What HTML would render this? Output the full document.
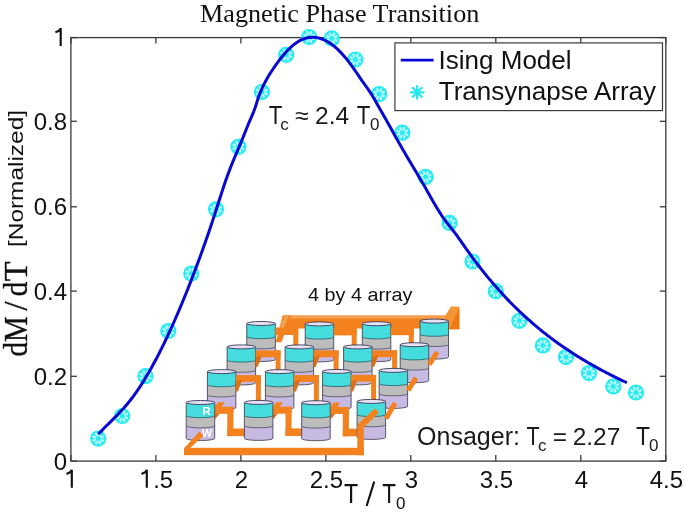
<!DOCTYPE html><html><head><meta charset="utf-8"><style>html,body{margin:0;padding:0;background:#fff;}svg{display:block;will-change:transform}</style></head><body>
<svg width="685" height="514" viewBox="0 0 685 514">
<rect width="685" height="514" fill="#fff"/>
<text x="200" y="21.9" font-family="'Liberation Serif', serif" font-size="26.2" fill="#111">Magnetic Phase Transition</text>
<rect x="70.9" y="37.6" width="594.9" height="423.5" fill="none" stroke="#3a3a3a" stroke-width="1.3"/>
<line x1="70.9" y1="461.1" x2="70.9" y2="455.1" stroke="#3a3a3a" stroke-width="1.3"/>
<line x1="70.9" y1="37.6" x2="70.9" y2="43.6" stroke="#3a3a3a" stroke-width="1.3"/>
<path d="M71.8,487.7 V469.7 M66.5,474.0 L70.1,472.3 L71.8,469.9" stroke="#111" stroke-width="2.15" fill="none" stroke-linejoin="round"/>
<line x1="155.9" y1="461.1" x2="155.9" y2="455.1" stroke="#3a3a3a" stroke-width="1.3"/>
<line x1="155.9" y1="37.6" x2="155.9" y2="43.6" stroke="#3a3a3a" stroke-width="1.3"/>
<path d="M146.8,487.7 V469.7 M141.5,474.0 L145.1,472.3 L146.8,469.9" stroke="#111" stroke-width="2.15" fill="none" stroke-linejoin="round"/>
<text x="153.15" y="487.7" font-family="'Liberation Sans', sans-serif" font-size="24" fill="#111">.5</text>
<line x1="240.9" y1="461.1" x2="240.9" y2="455.1" stroke="#3a3a3a" stroke-width="1.3"/>
<line x1="240.9" y1="37.6" x2="240.9" y2="43.6" stroke="#3a3a3a" stroke-width="1.3"/>
<text x="234.80" y="487.7" font-family="'Liberation Sans', sans-serif" font-size="24" fill="#111">2</text>
<line x1="325.9" y1="461.1" x2="325.9" y2="455.1" stroke="#3a3a3a" stroke-width="1.3"/>
<line x1="325.9" y1="37.6" x2="325.9" y2="43.6" stroke="#3a3a3a" stroke-width="1.3"/>
<text x="309.78" y="487.7" font-family="'Liberation Sans', sans-serif" font-size="24" fill="#111">2.5</text>
<line x1="410.8" y1="461.1" x2="410.8" y2="455.1" stroke="#3a3a3a" stroke-width="1.3"/>
<line x1="410.8" y1="37.6" x2="410.8" y2="43.6" stroke="#3a3a3a" stroke-width="1.3"/>
<text x="404.77" y="487.7" font-family="'Liberation Sans', sans-serif" font-size="24" fill="#111">3</text>
<line x1="495.8" y1="461.1" x2="495.8" y2="455.1" stroke="#3a3a3a" stroke-width="1.3"/>
<line x1="495.8" y1="37.6" x2="495.8" y2="43.6" stroke="#3a3a3a" stroke-width="1.3"/>
<text x="479.75" y="487.7" font-family="'Liberation Sans', sans-serif" font-size="24" fill="#111">3.5</text>
<line x1="580.8" y1="461.1" x2="580.8" y2="455.1" stroke="#3a3a3a" stroke-width="1.3"/>
<line x1="580.8" y1="37.6" x2="580.8" y2="43.6" stroke="#3a3a3a" stroke-width="1.3"/>
<text x="574.74" y="487.7" font-family="'Liberation Sans', sans-serif" font-size="24" fill="#111">4</text>
<line x1="665.8" y1="461.1" x2="665.8" y2="455.1" stroke="#3a3a3a" stroke-width="1.3"/>
<line x1="665.8" y1="37.6" x2="665.8" y2="43.6" stroke="#3a3a3a" stroke-width="1.3"/>
<text x="649.73" y="487.7" font-family="'Liberation Sans', sans-serif" font-size="24" fill="#111">4.5</text>
<line x1="70.9" y1="461.1" x2="76.9" y2="461.1" stroke="#3a3a3a" stroke-width="1.3"/>
<line x1="665.8" y1="461.1" x2="659.8" y2="461.1" stroke="#3a3a3a" stroke-width="1.3"/>
<text x="53.66" y="469.6" font-family="'Liberation Sans', sans-serif" font-size="24" fill="#111">0</text>
<line x1="70.9" y1="376.3" x2="76.9" y2="376.3" stroke="#3a3a3a" stroke-width="1.3"/>
<line x1="665.8" y1="376.3" x2="659.8" y2="376.3" stroke="#3a3a3a" stroke-width="1.3"/>
<text x="33.65" y="384.8" font-family="'Liberation Sans', sans-serif" font-size="24" fill="#111">0.2</text>
<line x1="70.9" y1="291.1" x2="76.9" y2="291.1" stroke="#3a3a3a" stroke-width="1.3"/>
<line x1="665.8" y1="291.1" x2="659.8" y2="291.1" stroke="#3a3a3a" stroke-width="1.3"/>
<text x="33.65" y="299.6" font-family="'Liberation Sans', sans-serif" font-size="24" fill="#111">0.4</text>
<line x1="70.9" y1="206.8" x2="76.9" y2="206.8" stroke="#3a3a3a" stroke-width="1.3"/>
<line x1="665.8" y1="206.8" x2="659.8" y2="206.8" stroke="#3a3a3a" stroke-width="1.3"/>
<text x="33.65" y="215.3" font-family="'Liberation Sans', sans-serif" font-size="24" fill="#111">0.6</text>
<line x1="70.9" y1="121.3" x2="76.9" y2="121.3" stroke="#3a3a3a" stroke-width="1.3"/>
<line x1="665.8" y1="121.3" x2="659.8" y2="121.3" stroke="#3a3a3a" stroke-width="1.3"/>
<text x="33.65" y="129.8" font-family="'Liberation Sans', sans-serif" font-size="24" fill="#111">0.8</text>
<line x1="70.9" y1="37.6" x2="76.9" y2="37.6" stroke="#3a3a3a" stroke-width="1.3"/>
<line x1="665.8" y1="37.6" x2="659.8" y2="37.6" stroke="#3a3a3a" stroke-width="1.3"/>
<path d="M60.7,46.1 V28.1 M55.4,32.4 L59.0,30.7 L60.7,28.3" stroke="#111" stroke-width="2.15" fill="none" stroke-linejoin="round"/>
<g transform="translate(27.4,0) rotate(-90)" font-family="'Liberation Serif', serif" font-size="33" fill="#111" stroke="#111" stroke-width="0.35">
<text x="-356.58" y="0" textLength="14.52" lengthAdjust="spacingAndGlyphs">d</text>
<text x="-341.88" y="0" textLength="25.64" lengthAdjust="spacingAndGlyphs">M</text>
<text x="-310.60" y="0" textLength="9.00" lengthAdjust="spacingAndGlyphs">/</text>
<text x="-296.19" y="0" textLength="14.63" lengthAdjust="spacingAndGlyphs">d</text>
<text x="-281.28" y="0" textLength="19.88" lengthAdjust="spacingAndGlyphs">T</text>
</g>
<g transform="translate(23.3,247) rotate(-90)"><text x="0" y="0" font-family="'Liberation Sans', sans-serif" font-size="20.5" fill="#111" textLength="137" lengthAdjust="spacingAndGlyphs">[Normalized]</text></g>
<text x="343.9" y="502.5" font-family="'Liberation Sans', sans-serif" font-size="27" fill="#111" textLength="14.2" lengthAdjust="spacingAndGlyphs">T</text>
<line x1="366.6" y1="506" x2="374.2" y2="481.6" stroke="#111" stroke-width="2.1"/>
<text x="382.3" y="502.5" font-family="'Liberation Sans', sans-serif" font-size="27" fill="#111" textLength="13.7" lengthAdjust="spacingAndGlyphs">T</text>
<text x="396.0" y="508.9" font-family="'Liberation Sans', sans-serif" font-size="17" fill="#111">0</text>
<polygon points="282.7,315.6 449.0,315.6 449.0,328.6 282.0,328.6" fill="#f3821e"/><rect x="286.0" y="315.6" width="160.0" height="3.0" fill="#f6a050"/><polygon points="445.2,315.8 451.0,306.6 459.4,306.6 459.4,329.3 449.5,329.3 446.0,329.3" fill="#f59636"/><polygon points="459.4,307.5 459.4,329.3 449.5,329.3" fill="#ee7a16"/><polygon points="282.7,315.6 291.0,315.6 281.5,342.3 275.6,342.3" fill="#f3821e"/><polygon points="284.5,315.6 289.0,315.6 283.5,328.6 279.5,328.6" fill="#f6a050"/><path d="M246.8,323.5 L246.8,359.5 A14.25,2.0 0 0 0 275.3,359.5 L275.3,323.5 Z" fill="#c6b9e2"/><path d="M246.8,323.5 L246.8,346.9 A14.25,2.0 0 0 0 275.3,346.9 L275.3,323.5 Z" fill="#bcbcbc"/><path d="M246.8,323.5 L246.8,336.7 A14.25,2.0 0 0 0 275.3,336.7 L275.3,323.5 Z" fill="#44dcdc"/><path d="M246.8,336.7 A14.25,2.0 0 0 0 275.3,336.7" fill="none" stroke="#2a6a70" stroke-width="0.9"/><path d="M246.8,346.9 A14.25,2.0 0 0 0 275.3,346.9" fill="none" stroke="#5a5a6a" stroke-width="0.9"/><path d="M246.8,323.5 L246.8,359.5 A14.25,2.0 0 0 0 275.3,359.5 L275.3,323.5" fill="none" stroke="#4a4a5a" stroke-width="0.9"/><ellipse cx="261.05" cy="323.5" rx="14.25" ry="2.0" fill="#e6e1f3" stroke="#3a3a5a" stroke-width="0.9"/><path d="M305.2,323.9 L305.2,359.9 A14.25,2.0 0 0 0 333.7,359.9 L333.7,323.9 Z" fill="#c6b9e2"/><path d="M305.2,323.9 L305.2,347.3 A14.25,2.0 0 0 0 333.7,347.3 L333.7,323.9 Z" fill="#bcbcbc"/><path d="M305.2,323.9 L305.2,337.1 A14.25,2.0 0 0 0 333.7,337.1 L333.7,323.9 Z" fill="#44dcdc"/><path d="M305.2,337.1 A14.25,2.0 0 0 0 333.7,337.1" fill="none" stroke="#2a6a70" stroke-width="0.9"/><path d="M305.2,347.3 A14.25,2.0 0 0 0 333.7,347.3" fill="none" stroke="#5a5a6a" stroke-width="0.9"/><path d="M305.2,323.9 L305.2,359.9 A14.25,2.0 0 0 0 333.7,359.9 L333.7,323.9" fill="none" stroke="#4a4a5a" stroke-width="0.9"/><ellipse cx="319.45" cy="323.9" rx="14.25" ry="2.0" fill="#e6e1f3" stroke="#3a3a5a" stroke-width="0.9"/><path d="M362.3,323.7 L362.3,359.7 A14.25,2.0 0 0 0 390.8,359.7 L390.8,323.7 Z" fill="#c6b9e2"/><path d="M362.3,323.7 L362.3,347.1 A14.25,2.0 0 0 0 390.8,347.1 L390.8,323.7 Z" fill="#bcbcbc"/><path d="M362.3,323.7 L362.3,336.9 A14.25,2.0 0 0 0 390.8,336.9 L390.8,323.7 Z" fill="#44dcdc"/><path d="M362.3,336.9 A14.25,2.0 0 0 0 390.8,336.9" fill="none" stroke="#2a6a70" stroke-width="0.9"/><path d="M362.3,347.1 A14.25,2.0 0 0 0 390.8,347.1" fill="none" stroke="#5a5a6a" stroke-width="0.9"/><path d="M362.3,323.7 L362.3,359.7 A14.25,2.0 0 0 0 390.8,359.7 L390.8,323.7" fill="none" stroke="#4a4a5a" stroke-width="0.9"/><ellipse cx="376.55" cy="323.7" rx="14.25" ry="2.0" fill="#e6e1f3" stroke="#3a3a5a" stroke-width="0.9"/><path d="M420.0,321.1 L420.0,357.1 A14.25,2.0 0 0 0 448.5,357.1 L448.5,321.1 Z" fill="#c6b9e2"/><path d="M420.0,321.1 L420.0,344.5 A14.25,2.0 0 0 0 448.5,344.5 L448.5,321.1 Z" fill="#bcbcbc"/><path d="M420.0,321.1 L420.0,334.3 A14.25,2.0 0 0 0 448.5,334.3 L448.5,321.1 Z" fill="#44dcdc"/><path d="M420.0,334.3 A14.25,2.0 0 0 0 448.5,334.3" fill="none" stroke="#2a6a70" stroke-width="0.9"/><path d="M420.0,344.5 A14.25,2.0 0 0 0 448.5,344.5" fill="none" stroke="#5a5a6a" stroke-width="0.9"/><path d="M420.0,321.1 L420.0,357.1 A14.25,2.0 0 0 0 448.5,357.1 L448.5,321.1" fill="none" stroke="#4a4a5a" stroke-width="0.9"/><ellipse cx="434.25" cy="321.1" rx="14.25" ry="2.0" fill="#e6e1f3" stroke="#3a3a5a" stroke-width="0.9"/><rect x="275.3" y="327.5" width="23.0" height="7.5" fill="#f3821e"/><rect x="293.3" y="327.5" width="5.0" height="21.4" fill="#f3821e"/><rect x="333.7" y="327.9" width="23.0" height="7.5" fill="#f3821e"/><rect x="351.7" y="327.9" width="5.0" height="21.0" fill="#f3821e"/><rect x="390.8" y="327.7" width="23.0" height="7.5" fill="#f3821e"/><rect x="408.8" y="327.7" width="5.0" height="19.0" fill="#f3821e"/><path d="M227.1,346.9 L227.1,382.9 A14.25,2.0 0 0 0 255.6,382.9 L255.6,346.9 Z" fill="#c6b9e2"/><path d="M227.1,346.9 L227.1,370.3 A14.25,2.0 0 0 0 255.6,370.3 L255.6,346.9 Z" fill="#bcbcbc"/><path d="M227.1,346.9 L227.1,360.1 A14.25,2.0 0 0 0 255.6,360.1 L255.6,346.9 Z" fill="#44dcdc"/><path d="M227.1,360.1 A14.25,2.0 0 0 0 255.6,360.1" fill="none" stroke="#2a6a70" stroke-width="0.9"/><path d="M227.1,370.3 A14.25,2.0 0 0 0 255.6,370.3" fill="none" stroke="#5a5a6a" stroke-width="0.9"/><path d="M227.1,346.9 L227.1,382.9 A14.25,2.0 0 0 0 255.6,382.9 L255.6,346.9" fill="none" stroke="#4a4a5a" stroke-width="0.9"/><ellipse cx="241.35" cy="346.9" rx="14.25" ry="2.0" fill="#e6e1f3" stroke="#3a3a5a" stroke-width="0.9"/><path d="M285.1,346.9 L285.1,382.9 A14.25,2.0 0 0 0 313.6,382.9 L313.6,346.9 Z" fill="#c6b9e2"/><path d="M285.1,346.9 L285.1,370.3 A14.25,2.0 0 0 0 313.6,370.3 L313.6,346.9 Z" fill="#bcbcbc"/><path d="M285.1,346.9 L285.1,360.1 A14.25,2.0 0 0 0 313.6,360.1 L313.6,346.9 Z" fill="#44dcdc"/><path d="M285.1,360.1 A14.25,2.0 0 0 0 313.6,360.1" fill="none" stroke="#2a6a70" stroke-width="0.9"/><path d="M285.1,370.3 A14.25,2.0 0 0 0 313.6,370.3" fill="none" stroke="#5a5a6a" stroke-width="0.9"/><path d="M285.1,346.9 L285.1,382.9 A14.25,2.0 0 0 0 313.6,382.9 L313.6,346.9" fill="none" stroke="#4a4a5a" stroke-width="0.9"/><ellipse cx="299.35" cy="346.9" rx="14.25" ry="2.0" fill="#e6e1f3" stroke="#3a3a5a" stroke-width="0.9"/><path d="M343.6,346.9 L343.6,382.9 A14.25,2.0 0 0 0 372.1,382.9 L372.1,346.9 Z" fill="#c6b9e2"/><path d="M343.6,346.9 L343.6,370.3 A14.25,2.0 0 0 0 372.1,370.3 L372.1,346.9 Z" fill="#bcbcbc"/><path d="M343.6,346.9 L343.6,360.1 A14.25,2.0 0 0 0 372.1,360.1 L372.1,346.9 Z" fill="#44dcdc"/><path d="M343.6,360.1 A14.25,2.0 0 0 0 372.1,360.1" fill="none" stroke="#2a6a70" stroke-width="0.9"/><path d="M343.6,370.3 A14.25,2.0 0 0 0 372.1,370.3" fill="none" stroke="#5a5a6a" stroke-width="0.9"/><path d="M343.6,346.9 L343.6,382.9 A14.25,2.0 0 0 0 372.1,382.9 L372.1,346.9" fill="none" stroke="#4a4a5a" stroke-width="0.9"/><ellipse cx="357.85" cy="346.9" rx="14.25" ry="2.0" fill="#e6e1f3" stroke="#3a3a5a" stroke-width="0.9"/><path d="M400.2,344.7 L400.2,380.7 A14.25,2.0 0 0 0 428.7,380.7 L428.7,344.7 Z" fill="#c6b9e2"/><path d="M400.2,344.7 L400.2,368.1 A14.25,2.0 0 0 0 428.7,368.1 L428.7,344.7 Z" fill="#bcbcbc"/><path d="M400.2,344.7 L400.2,357.9 A14.25,2.0 0 0 0 428.7,357.9 L428.7,344.7 Z" fill="#44dcdc"/><path d="M400.2,357.9 A14.25,2.0 0 0 0 428.7,357.9" fill="none" stroke="#2a6a70" stroke-width="0.9"/><path d="M400.2,368.1 A14.25,2.0 0 0 0 428.7,368.1" fill="none" stroke="#5a5a6a" stroke-width="0.9"/><path d="M400.2,344.7 L400.2,380.7 A14.25,2.0 0 0 0 428.7,380.7 L428.7,344.7" fill="none" stroke="#4a4a5a" stroke-width="0.9"/><ellipse cx="414.45" cy="344.7" rx="14.25" ry="2.0" fill="#e6e1f3" stroke="#3a3a5a" stroke-width="0.9"/><rect x="255.6" y="350.4" width="25.0" height="6.8" fill="#f3821e"/><rect x="275.6" y="350.4" width="5.0" height="23.2" fill="#f3821e"/><polygon points="255.6,356.9 262.1,354.9 257.6,366.9 255.6,366.9" fill="#e06e12"/><rect x="313.6" y="350.4" width="25.0" height="6.8" fill="#f3821e"/><rect x="333.6" y="350.4" width="5.0" height="23.0" fill="#f3821e"/><polygon points="313.6,356.9 320.1,354.9 315.6,366.9 313.6,366.9" fill="#e06e12"/><rect x="372.1" y="350.4" width="25.0" height="6.8" fill="#f3821e"/><rect x="392.1" y="350.4" width="5.0" height="22.0" fill="#f3821e"/><polygon points="372.1,356.9 378.6,354.9 374.1,366.9 372.1,366.9" fill="#e06e12"/><line x1="429.2" y1="364.7" x2="437.2" y2="352.2" stroke="#f3821e" stroke-width="5"/><path d="M207.4,371.6 L207.4,407.6 A14.25,2.0 0 0 0 235.9,407.6 L235.9,371.6 Z" fill="#c6b9e2"/><path d="M207.4,371.6 L207.4,395.0 A14.25,2.0 0 0 0 235.9,395.0 L235.9,371.6 Z" fill="#bcbcbc"/><path d="M207.4,371.6 L207.4,384.8 A14.25,2.0 0 0 0 235.9,384.8 L235.9,371.6 Z" fill="#44dcdc"/><path d="M207.4,384.8 A14.25,2.0 0 0 0 235.9,384.8" fill="none" stroke="#2a6a70" stroke-width="0.9"/><path d="M207.4,395.0 A14.25,2.0 0 0 0 235.9,395.0" fill="none" stroke="#5a5a6a" stroke-width="0.9"/><path d="M207.4,371.6 L207.4,407.6 A14.25,2.0 0 0 0 235.9,407.6 L235.9,371.6" fill="none" stroke="#4a4a5a" stroke-width="0.9"/><ellipse cx="221.65" cy="371.6" rx="14.25" ry="2.0" fill="#e6e1f3" stroke="#3a3a5a" stroke-width="0.9"/><path d="M265.4,371.6 L265.4,407.6 A14.25,2.0 0 0 0 293.9,407.6 L293.9,371.6 Z" fill="#c6b9e2"/><path d="M265.4,371.6 L265.4,395.0 A14.25,2.0 0 0 0 293.9,395.0 L293.9,371.6 Z" fill="#bcbcbc"/><path d="M265.4,371.6 L265.4,384.8 A14.25,2.0 0 0 0 293.9,384.8 L293.9,371.6 Z" fill="#44dcdc"/><path d="M265.4,384.8 A14.25,2.0 0 0 0 293.9,384.8" fill="none" stroke="#2a6a70" stroke-width="0.9"/><path d="M265.4,395.0 A14.25,2.0 0 0 0 293.9,395.0" fill="none" stroke="#5a5a6a" stroke-width="0.9"/><path d="M265.4,371.6 L265.4,407.6 A14.25,2.0 0 0 0 293.9,407.6 L293.9,371.6" fill="none" stroke="#4a4a5a" stroke-width="0.9"/><ellipse cx="279.65" cy="371.6" rx="14.25" ry="2.0" fill="#e6e1f3" stroke="#3a3a5a" stroke-width="0.9"/><path d="M322.6,371.4 L322.6,407.4 A14.25,2.0 0 0 0 351.1,407.4 L351.1,371.4 Z" fill="#c6b9e2"/><path d="M322.6,371.4 L322.6,394.8 A14.25,2.0 0 0 0 351.1,394.8 L351.1,371.4 Z" fill="#bcbcbc"/><path d="M322.6,371.4 L322.6,384.6 A14.25,2.0 0 0 0 351.1,384.6 L351.1,371.4 Z" fill="#44dcdc"/><path d="M322.6,384.6 A14.25,2.0 0 0 0 351.1,384.6" fill="none" stroke="#2a6a70" stroke-width="0.9"/><path d="M322.6,394.8 A14.25,2.0 0 0 0 351.1,394.8" fill="none" stroke="#5a5a6a" stroke-width="0.9"/><path d="M322.6,371.4 L322.6,407.4 A14.25,2.0 0 0 0 351.1,407.4 L351.1,371.4" fill="none" stroke="#4a4a5a" stroke-width="0.9"/><ellipse cx="336.85" cy="371.4" rx="14.25" ry="2.0" fill="#e6e1f3" stroke="#3a3a5a" stroke-width="0.9"/><path d="M379.1,370.4 L379.1,406.4 A14.25,2.0 0 0 0 407.6,406.4 L407.6,370.4 Z" fill="#c6b9e2"/><path d="M379.1,370.4 L379.1,393.8 A14.25,2.0 0 0 0 407.6,393.8 L407.6,370.4 Z" fill="#bcbcbc"/><path d="M379.1,370.4 L379.1,383.6 A14.25,2.0 0 0 0 407.6,383.6 L407.6,370.4 Z" fill="#44dcdc"/><path d="M379.1,383.6 A14.25,2.0 0 0 0 407.6,383.6" fill="none" stroke="#2a6a70" stroke-width="0.9"/><path d="M379.1,393.8 A14.25,2.0 0 0 0 407.6,393.8" fill="none" stroke="#5a5a6a" stroke-width="0.9"/><path d="M379.1,370.4 L379.1,406.4 A14.25,2.0 0 0 0 407.6,406.4 L407.6,370.4" fill="none" stroke="#4a4a5a" stroke-width="0.9"/><ellipse cx="393.35" cy="370.4" rx="14.25" ry="2.0" fill="#e6e1f3" stroke="#3a3a5a" stroke-width="0.9"/><rect x="235.9" y="375.1" width="25.0" height="6.8" fill="#f3821e"/><rect x="255.9" y="375.1" width="5.0" height="29.3" fill="#f3821e"/><polygon points="235.9,381.6 242.4,379.6 237.9,391.6 235.9,391.6" fill="#e06e12"/><rect x="293.9" y="375.1" width="25.0" height="6.8" fill="#f3821e"/><rect x="313.9" y="375.1" width="5.0" height="29.6" fill="#f3821e"/><polygon points="293.9,381.6 300.4,379.6 295.9,391.6 293.9,391.6" fill="#e06e12"/><rect x="351.1" y="374.9" width="25.0" height="6.8" fill="#f3821e"/><rect x="371.1" y="374.9" width="5.0" height="28.5" fill="#f3821e"/><polygon points="351.1,381.4 357.6,379.4 353.1,391.4 351.1,391.4" fill="#e06e12"/><line x1="408.1" y1="390.4" x2="416.1" y2="377.9" stroke="#f3821e" stroke-width="5"/><rect x="213.7" y="406.8" width="19.7" height="7.0" fill="#f3821e"/><polygon points="214.2,407.0 218.2,402.3 224.7,402.3 221.7,407.0" fill="#f3821e"/><rect x="227.3" y="406.8" width="6.1" height="29.3" fill="#f3821e"/><rect x="227.3" y="428.5" width="19.1" height="7.6" fill="#f3821e"/><polygon points="214.7,413.5 219.7,413.5 215.7,418.5 214.7,418.5" fill="#e06e12"/><rect x="271.9" y="406.7" width="19.7" height="7.0" fill="#f3821e"/><polygon points="272.4,406.9 276.4,402.2 282.9,402.2 279.9,406.9" fill="#f3821e"/><rect x="285.5" y="406.7" width="6.1" height="29.3" fill="#f3821e"/><rect x="285.5" y="428.4" width="18.2" height="7.6" fill="#f3821e"/><polygon points="272.9,413.4 277.9,413.4 273.9,418.4 272.9,418.4" fill="#e06e12"/><rect x="329.2" y="407.0" width="19.7" height="7.0" fill="#f3821e"/><polygon points="329.7,407.2 333.7,402.5 340.2,402.5 337.2,407.2" fill="#f3821e"/><rect x="342.8" y="407.0" width="6.1" height="29.3" fill="#f3821e"/><rect x="342.8" y="428.7" width="16.3" height="7.6" fill="#f3821e"/><polygon points="330.2,413.7 335.2,413.7 331.2,418.7 330.2,418.7" fill="#e06e12"/><rect x="184.0" y="447.8" width="180.0" height="7.4" fill="#f3821e"/><path d="M186.2,402.5 L186.2,438.5 A14.25,2.0 0 0 0 214.7,438.5 L214.7,402.5 Z" fill="#c6b9e2"/><path d="M186.2,402.5 L186.2,425.9 A14.25,2.0 0 0 0 214.7,425.9 L214.7,402.5 Z" fill="#bcbcbc"/><path d="M186.2,402.5 L186.2,415.7 A14.25,2.0 0 0 0 214.7,415.7 L214.7,402.5 Z" fill="#44dcdc"/><path d="M186.2,415.7 A14.25,2.0 0 0 0 214.7,415.7" fill="none" stroke="#2a6a70" stroke-width="0.9"/><path d="M186.2,425.9 A14.25,2.0 0 0 0 214.7,425.9" fill="none" stroke="#5a5a6a" stroke-width="0.9"/><path d="M186.2,402.5 L186.2,438.5 A14.25,2.0 0 0 0 214.7,438.5 L214.7,402.5" fill="none" stroke="#4a4a5a" stroke-width="0.9"/><ellipse cx="200.45" cy="402.5" rx="14.25" ry="2.0" fill="#e6e1f3" stroke="#3a3a5a" stroke-width="0.9"/><path d="M244.4,402.4 L244.4,438.4 A14.25,2.0 0 0 0 272.9,438.4 L272.9,402.4 Z" fill="#c6b9e2"/><path d="M244.4,402.4 L244.4,425.8 A14.25,2.0 0 0 0 272.9,425.8 L272.9,402.4 Z" fill="#bcbcbc"/><path d="M244.4,402.4 L244.4,415.6 A14.25,2.0 0 0 0 272.9,415.6 L272.9,402.4 Z" fill="#44dcdc"/><path d="M244.4,415.6 A14.25,2.0 0 0 0 272.9,415.6" fill="none" stroke="#2a6a70" stroke-width="0.9"/><path d="M244.4,425.8 A14.25,2.0 0 0 0 272.9,425.8" fill="none" stroke="#5a5a6a" stroke-width="0.9"/><path d="M244.4,402.4 L244.4,438.4 A14.25,2.0 0 0 0 272.9,438.4 L272.9,402.4" fill="none" stroke="#4a4a5a" stroke-width="0.9"/><ellipse cx="258.65" cy="402.4" rx="14.25" ry="2.0" fill="#e6e1f3" stroke="#3a3a5a" stroke-width="0.9"/><path d="M301.7,402.7 L301.7,438.7 A14.25,2.0 0 0 0 330.2,438.7 L330.2,402.7 Z" fill="#c6b9e2"/><path d="M301.7,402.7 L301.7,426.1 A14.25,2.0 0 0 0 330.2,426.1 L330.2,402.7 Z" fill="#bcbcbc"/><path d="M301.7,402.7 L301.7,415.9 A14.25,2.0 0 0 0 330.2,415.9 L330.2,402.7 Z" fill="#44dcdc"/><path d="M301.7,415.9 A14.25,2.0 0 0 0 330.2,415.9" fill="none" stroke="#2a6a70" stroke-width="0.9"/><path d="M301.7,426.1 A14.25,2.0 0 0 0 330.2,426.1" fill="none" stroke="#5a5a6a" stroke-width="0.9"/><path d="M301.7,402.7 L301.7,438.7 A14.25,2.0 0 0 0 330.2,438.7 L330.2,402.7" fill="none" stroke="#4a4a5a" stroke-width="0.9"/><ellipse cx="315.95" cy="402.7" rx="14.25" ry="2.0" fill="#e6e1f3" stroke="#3a3a5a" stroke-width="0.9"/><path d="M357.1,401.4 L357.1,437.4 A14.25,2.0 0 0 0 385.6,437.4 L385.6,401.4 Z" fill="#c6b9e2"/><path d="M357.1,401.4 L357.1,424.8 A14.25,2.0 0 0 0 385.6,424.8 L385.6,401.4 Z" fill="#bcbcbc"/><path d="M357.1,401.4 L357.1,414.6 A14.25,2.0 0 0 0 385.6,414.6 L385.6,401.4 Z" fill="#44dcdc"/><path d="M357.1,414.6 A14.25,2.0 0 0 0 385.6,414.6" fill="none" stroke="#2a6a70" stroke-width="0.9"/><path d="M357.1,424.8 A14.25,2.0 0 0 0 385.6,424.8" fill="none" stroke="#5a5a6a" stroke-width="0.9"/><path d="M357.1,401.4 L357.1,437.4 A14.25,2.0 0 0 0 385.6,437.4 L385.6,401.4" fill="none" stroke="#4a4a5a" stroke-width="0.9"/><ellipse cx="371.35" cy="401.4" rx="14.25" ry="2.0" fill="#e6e1f3" stroke="#3a3a5a" stroke-width="0.9"/><rect x="357.3" y="426.0" width="6.5" height="29.2" fill="#f3821e"/><polygon points="183.8,448.5 189.5,448.5 203.5,436.0 199.5,431.5" fill="#f3821e"/><line x1="359.5" y1="427.0" x2="377.0" y2="410.5" stroke="#f3821e" stroke-width="6"/><line x1="386.1" y1="418.4" x2="395.1" y2="402.9" stroke="#f3821e" stroke-width="5"/><text x="202.6" y="415" font-family="'Liberation Sans', sans-serif" font-size="11.5" font-weight="bold" fill="#fff">R</text><text x="201.8" y="437" font-family="'Liberation Sans', sans-serif" font-size="11" font-weight="bold" fill="#fff">W</text>
<g transform="translate(98.2,438.6)"><circle r="8.1" fill="#26ecf2"/><ellipse cx="3.97" cy="-1.65" rx="2.1" ry="1.25" transform="rotate(-22.5 3.97 -1.65)" fill="#bff8fb"/><ellipse cx="1.65" cy="-3.97" rx="2.1" ry="1.25" transform="rotate(-67.5 1.65 -3.97)" fill="#bff8fb"/><ellipse cx="-1.65" cy="-3.97" rx="2.1" ry="1.25" transform="rotate(-112.5 -1.65 -3.97)" fill="#bff8fb"/><ellipse cx="-3.97" cy="-1.65" rx="2.1" ry="1.25" transform="rotate(-157.5 -3.97 -1.65)" fill="#bff8fb"/><ellipse cx="-3.97" cy="1.65" rx="2.1" ry="1.25" transform="rotate(-202.5 -3.97 1.65)" fill="#bff8fb"/><ellipse cx="-1.65" cy="3.97" rx="2.1" ry="1.25" transform="rotate(-247.5 -1.65 3.97)" fill="#bff8fb"/><ellipse cx="1.65" cy="3.97" rx="2.1" ry="1.25" transform="rotate(-292.5 1.65 3.97)" fill="#bff8fb"/><ellipse cx="3.97" cy="1.65" rx="2.1" ry="1.25" transform="rotate(-337.5 3.97 1.65)" fill="#bff8fb"/></g>
<g transform="translate(122.2,416)"><circle r="8.1" fill="#26ecf2"/><ellipse cx="3.97" cy="-1.65" rx="2.1" ry="1.25" transform="rotate(-22.5 3.97 -1.65)" fill="#bff8fb"/><ellipse cx="1.65" cy="-3.97" rx="2.1" ry="1.25" transform="rotate(-67.5 1.65 -3.97)" fill="#bff8fb"/><ellipse cx="-1.65" cy="-3.97" rx="2.1" ry="1.25" transform="rotate(-112.5 -1.65 -3.97)" fill="#bff8fb"/><ellipse cx="-3.97" cy="-1.65" rx="2.1" ry="1.25" transform="rotate(-157.5 -3.97 -1.65)" fill="#bff8fb"/><ellipse cx="-3.97" cy="1.65" rx="2.1" ry="1.25" transform="rotate(-202.5 -3.97 1.65)" fill="#bff8fb"/><ellipse cx="-1.65" cy="3.97" rx="2.1" ry="1.25" transform="rotate(-247.5 -1.65 3.97)" fill="#bff8fb"/><ellipse cx="1.65" cy="3.97" rx="2.1" ry="1.25" transform="rotate(-292.5 1.65 3.97)" fill="#bff8fb"/><ellipse cx="3.97" cy="1.65" rx="2.1" ry="1.25" transform="rotate(-337.5 3.97 1.65)" fill="#bff8fb"/></g>
<g transform="translate(145.5,376.2)"><circle r="8.1" fill="#26ecf2"/><ellipse cx="3.97" cy="-1.65" rx="2.1" ry="1.25" transform="rotate(-22.5 3.97 -1.65)" fill="#bff8fb"/><ellipse cx="1.65" cy="-3.97" rx="2.1" ry="1.25" transform="rotate(-67.5 1.65 -3.97)" fill="#bff8fb"/><ellipse cx="-1.65" cy="-3.97" rx="2.1" ry="1.25" transform="rotate(-112.5 -1.65 -3.97)" fill="#bff8fb"/><ellipse cx="-3.97" cy="-1.65" rx="2.1" ry="1.25" transform="rotate(-157.5 -3.97 -1.65)" fill="#bff8fb"/><ellipse cx="-3.97" cy="1.65" rx="2.1" ry="1.25" transform="rotate(-202.5 -3.97 1.65)" fill="#bff8fb"/><ellipse cx="-1.65" cy="3.97" rx="2.1" ry="1.25" transform="rotate(-247.5 -1.65 3.97)" fill="#bff8fb"/><ellipse cx="1.65" cy="3.97" rx="2.1" ry="1.25" transform="rotate(-292.5 1.65 3.97)" fill="#bff8fb"/><ellipse cx="3.97" cy="1.65" rx="2.1" ry="1.25" transform="rotate(-337.5 3.97 1.65)" fill="#bff8fb"/></g>
<g transform="translate(168.3,331)"><circle r="8.1" fill="#26ecf2"/><ellipse cx="3.97" cy="-1.65" rx="2.1" ry="1.25" transform="rotate(-22.5 3.97 -1.65)" fill="#bff8fb"/><ellipse cx="1.65" cy="-3.97" rx="2.1" ry="1.25" transform="rotate(-67.5 1.65 -3.97)" fill="#bff8fb"/><ellipse cx="-1.65" cy="-3.97" rx="2.1" ry="1.25" transform="rotate(-112.5 -1.65 -3.97)" fill="#bff8fb"/><ellipse cx="-3.97" cy="-1.65" rx="2.1" ry="1.25" transform="rotate(-157.5 -3.97 -1.65)" fill="#bff8fb"/><ellipse cx="-3.97" cy="1.65" rx="2.1" ry="1.25" transform="rotate(-202.5 -3.97 1.65)" fill="#bff8fb"/><ellipse cx="-1.65" cy="3.97" rx="2.1" ry="1.25" transform="rotate(-247.5 -1.65 3.97)" fill="#bff8fb"/><ellipse cx="1.65" cy="3.97" rx="2.1" ry="1.25" transform="rotate(-292.5 1.65 3.97)" fill="#bff8fb"/><ellipse cx="3.97" cy="1.65" rx="2.1" ry="1.25" transform="rotate(-337.5 3.97 1.65)" fill="#bff8fb"/></g>
<g transform="translate(191.3,273.5)"><circle r="8.1" fill="#26ecf2"/><ellipse cx="3.97" cy="-1.65" rx="2.1" ry="1.25" transform="rotate(-22.5 3.97 -1.65)" fill="#bff8fb"/><ellipse cx="1.65" cy="-3.97" rx="2.1" ry="1.25" transform="rotate(-67.5 1.65 -3.97)" fill="#bff8fb"/><ellipse cx="-1.65" cy="-3.97" rx="2.1" ry="1.25" transform="rotate(-112.5 -1.65 -3.97)" fill="#bff8fb"/><ellipse cx="-3.97" cy="-1.65" rx="2.1" ry="1.25" transform="rotate(-157.5 -3.97 -1.65)" fill="#bff8fb"/><ellipse cx="-3.97" cy="1.65" rx="2.1" ry="1.25" transform="rotate(-202.5 -3.97 1.65)" fill="#bff8fb"/><ellipse cx="-1.65" cy="3.97" rx="2.1" ry="1.25" transform="rotate(-247.5 -1.65 3.97)" fill="#bff8fb"/><ellipse cx="1.65" cy="3.97" rx="2.1" ry="1.25" transform="rotate(-292.5 1.65 3.97)" fill="#bff8fb"/><ellipse cx="3.97" cy="1.65" rx="2.1" ry="1.25" transform="rotate(-337.5 3.97 1.65)" fill="#bff8fb"/></g>
<g transform="translate(216,209.3)"><circle r="8.1" fill="#26ecf2"/><ellipse cx="3.97" cy="-1.65" rx="2.1" ry="1.25" transform="rotate(-22.5 3.97 -1.65)" fill="#bff8fb"/><ellipse cx="1.65" cy="-3.97" rx="2.1" ry="1.25" transform="rotate(-67.5 1.65 -3.97)" fill="#bff8fb"/><ellipse cx="-1.65" cy="-3.97" rx="2.1" ry="1.25" transform="rotate(-112.5 -1.65 -3.97)" fill="#bff8fb"/><ellipse cx="-3.97" cy="-1.65" rx="2.1" ry="1.25" transform="rotate(-157.5 -3.97 -1.65)" fill="#bff8fb"/><ellipse cx="-3.97" cy="1.65" rx="2.1" ry="1.25" transform="rotate(-202.5 -3.97 1.65)" fill="#bff8fb"/><ellipse cx="-1.65" cy="3.97" rx="2.1" ry="1.25" transform="rotate(-247.5 -1.65 3.97)" fill="#bff8fb"/><ellipse cx="1.65" cy="3.97" rx="2.1" ry="1.25" transform="rotate(-292.5 1.65 3.97)" fill="#bff8fb"/><ellipse cx="3.97" cy="1.65" rx="2.1" ry="1.25" transform="rotate(-337.5 3.97 1.65)" fill="#bff8fb"/></g>
<g transform="translate(238.4,146.8)"><circle r="8.1" fill="#26ecf2"/><ellipse cx="3.97" cy="-1.65" rx="2.1" ry="1.25" transform="rotate(-22.5 3.97 -1.65)" fill="#bff8fb"/><ellipse cx="1.65" cy="-3.97" rx="2.1" ry="1.25" transform="rotate(-67.5 1.65 -3.97)" fill="#bff8fb"/><ellipse cx="-1.65" cy="-3.97" rx="2.1" ry="1.25" transform="rotate(-112.5 -1.65 -3.97)" fill="#bff8fb"/><ellipse cx="-3.97" cy="-1.65" rx="2.1" ry="1.25" transform="rotate(-157.5 -3.97 -1.65)" fill="#bff8fb"/><ellipse cx="-3.97" cy="1.65" rx="2.1" ry="1.25" transform="rotate(-202.5 -3.97 1.65)" fill="#bff8fb"/><ellipse cx="-1.65" cy="3.97" rx="2.1" ry="1.25" transform="rotate(-247.5 -1.65 3.97)" fill="#bff8fb"/><ellipse cx="1.65" cy="3.97" rx="2.1" ry="1.25" transform="rotate(-292.5 1.65 3.97)" fill="#bff8fb"/><ellipse cx="3.97" cy="1.65" rx="2.1" ry="1.25" transform="rotate(-337.5 3.97 1.65)" fill="#bff8fb"/></g>
<g transform="translate(261.9,92)"><circle r="8.1" fill="#26ecf2"/><ellipse cx="3.97" cy="-1.65" rx="2.1" ry="1.25" transform="rotate(-22.5 3.97 -1.65)" fill="#bff8fb"/><ellipse cx="1.65" cy="-3.97" rx="2.1" ry="1.25" transform="rotate(-67.5 1.65 -3.97)" fill="#bff8fb"/><ellipse cx="-1.65" cy="-3.97" rx="2.1" ry="1.25" transform="rotate(-112.5 -1.65 -3.97)" fill="#bff8fb"/><ellipse cx="-3.97" cy="-1.65" rx="2.1" ry="1.25" transform="rotate(-157.5 -3.97 -1.65)" fill="#bff8fb"/><ellipse cx="-3.97" cy="1.65" rx="2.1" ry="1.25" transform="rotate(-202.5 -3.97 1.65)" fill="#bff8fb"/><ellipse cx="-1.65" cy="3.97" rx="2.1" ry="1.25" transform="rotate(-247.5 -1.65 3.97)" fill="#bff8fb"/><ellipse cx="1.65" cy="3.97" rx="2.1" ry="1.25" transform="rotate(-292.5 1.65 3.97)" fill="#bff8fb"/><ellipse cx="3.97" cy="1.65" rx="2.1" ry="1.25" transform="rotate(-337.5 3.97 1.65)" fill="#bff8fb"/></g>
<g transform="translate(286.2,54.8)"><circle r="8.1" fill="#26ecf2"/><ellipse cx="3.97" cy="-1.65" rx="2.1" ry="1.25" transform="rotate(-22.5 3.97 -1.65)" fill="#bff8fb"/><ellipse cx="1.65" cy="-3.97" rx="2.1" ry="1.25" transform="rotate(-67.5 1.65 -3.97)" fill="#bff8fb"/><ellipse cx="-1.65" cy="-3.97" rx="2.1" ry="1.25" transform="rotate(-112.5 -1.65 -3.97)" fill="#bff8fb"/><ellipse cx="-3.97" cy="-1.65" rx="2.1" ry="1.25" transform="rotate(-157.5 -3.97 -1.65)" fill="#bff8fb"/><ellipse cx="-3.97" cy="1.65" rx="2.1" ry="1.25" transform="rotate(-202.5 -3.97 1.65)" fill="#bff8fb"/><ellipse cx="-1.65" cy="3.97" rx="2.1" ry="1.25" transform="rotate(-247.5 -1.65 3.97)" fill="#bff8fb"/><ellipse cx="1.65" cy="3.97" rx="2.1" ry="1.25" transform="rotate(-292.5 1.65 3.97)" fill="#bff8fb"/><ellipse cx="3.97" cy="1.65" rx="2.1" ry="1.25" transform="rotate(-337.5 3.97 1.65)" fill="#bff8fb"/></g>
<g transform="translate(309.2,37)"><circle r="8.1" fill="#26ecf2"/><ellipse cx="3.97" cy="-1.65" rx="2.1" ry="1.25" transform="rotate(-22.5 3.97 -1.65)" fill="#bff8fb"/><ellipse cx="1.65" cy="-3.97" rx="2.1" ry="1.25" transform="rotate(-67.5 1.65 -3.97)" fill="#bff8fb"/><ellipse cx="-1.65" cy="-3.97" rx="2.1" ry="1.25" transform="rotate(-112.5 -1.65 -3.97)" fill="#bff8fb"/><ellipse cx="-3.97" cy="-1.65" rx="2.1" ry="1.25" transform="rotate(-157.5 -3.97 -1.65)" fill="#bff8fb"/><ellipse cx="-3.97" cy="1.65" rx="2.1" ry="1.25" transform="rotate(-202.5 -3.97 1.65)" fill="#bff8fb"/><ellipse cx="-1.65" cy="3.97" rx="2.1" ry="1.25" transform="rotate(-247.5 -1.65 3.97)" fill="#bff8fb"/><ellipse cx="1.65" cy="3.97" rx="2.1" ry="1.25" transform="rotate(-292.5 1.65 3.97)" fill="#bff8fb"/><ellipse cx="3.97" cy="1.65" rx="2.1" ry="1.25" transform="rotate(-337.5 3.97 1.65)" fill="#bff8fb"/></g>
<g transform="translate(331.8,38.4)"><circle r="8.1" fill="#26ecf2"/><ellipse cx="3.97" cy="-1.65" rx="2.1" ry="1.25" transform="rotate(-22.5 3.97 -1.65)" fill="#bff8fb"/><ellipse cx="1.65" cy="-3.97" rx="2.1" ry="1.25" transform="rotate(-67.5 1.65 -3.97)" fill="#bff8fb"/><ellipse cx="-1.65" cy="-3.97" rx="2.1" ry="1.25" transform="rotate(-112.5 -1.65 -3.97)" fill="#bff8fb"/><ellipse cx="-3.97" cy="-1.65" rx="2.1" ry="1.25" transform="rotate(-157.5 -3.97 -1.65)" fill="#bff8fb"/><ellipse cx="-3.97" cy="1.65" rx="2.1" ry="1.25" transform="rotate(-202.5 -3.97 1.65)" fill="#bff8fb"/><ellipse cx="-1.65" cy="3.97" rx="2.1" ry="1.25" transform="rotate(-247.5 -1.65 3.97)" fill="#bff8fb"/><ellipse cx="1.65" cy="3.97" rx="2.1" ry="1.25" transform="rotate(-292.5 1.65 3.97)" fill="#bff8fb"/><ellipse cx="3.97" cy="1.65" rx="2.1" ry="1.25" transform="rotate(-337.5 3.97 1.65)" fill="#bff8fb"/></g>
<g transform="translate(355.4,59.5)"><circle r="8.1" fill="#26ecf2"/><ellipse cx="3.97" cy="-1.65" rx="2.1" ry="1.25" transform="rotate(-22.5 3.97 -1.65)" fill="#bff8fb"/><ellipse cx="1.65" cy="-3.97" rx="2.1" ry="1.25" transform="rotate(-67.5 1.65 -3.97)" fill="#bff8fb"/><ellipse cx="-1.65" cy="-3.97" rx="2.1" ry="1.25" transform="rotate(-112.5 -1.65 -3.97)" fill="#bff8fb"/><ellipse cx="-3.97" cy="-1.65" rx="2.1" ry="1.25" transform="rotate(-157.5 -3.97 -1.65)" fill="#bff8fb"/><ellipse cx="-3.97" cy="1.65" rx="2.1" ry="1.25" transform="rotate(-202.5 -3.97 1.65)" fill="#bff8fb"/><ellipse cx="-1.65" cy="3.97" rx="2.1" ry="1.25" transform="rotate(-247.5 -1.65 3.97)" fill="#bff8fb"/><ellipse cx="1.65" cy="3.97" rx="2.1" ry="1.25" transform="rotate(-292.5 1.65 3.97)" fill="#bff8fb"/><ellipse cx="3.97" cy="1.65" rx="2.1" ry="1.25" transform="rotate(-337.5 3.97 1.65)" fill="#bff8fb"/></g>
<g transform="translate(379.2,94.1)"><circle r="8.1" fill="#26ecf2"/><ellipse cx="3.97" cy="-1.65" rx="2.1" ry="1.25" transform="rotate(-22.5 3.97 -1.65)" fill="#bff8fb"/><ellipse cx="1.65" cy="-3.97" rx="2.1" ry="1.25" transform="rotate(-67.5 1.65 -3.97)" fill="#bff8fb"/><ellipse cx="-1.65" cy="-3.97" rx="2.1" ry="1.25" transform="rotate(-112.5 -1.65 -3.97)" fill="#bff8fb"/><ellipse cx="-3.97" cy="-1.65" rx="2.1" ry="1.25" transform="rotate(-157.5 -3.97 -1.65)" fill="#bff8fb"/><ellipse cx="-3.97" cy="1.65" rx="2.1" ry="1.25" transform="rotate(-202.5 -3.97 1.65)" fill="#bff8fb"/><ellipse cx="-1.65" cy="3.97" rx="2.1" ry="1.25" transform="rotate(-247.5 -1.65 3.97)" fill="#bff8fb"/><ellipse cx="1.65" cy="3.97" rx="2.1" ry="1.25" transform="rotate(-292.5 1.65 3.97)" fill="#bff8fb"/><ellipse cx="3.97" cy="1.65" rx="2.1" ry="1.25" transform="rotate(-337.5 3.97 1.65)" fill="#bff8fb"/></g>
<g transform="translate(402.3,132.7)"><circle r="8.1" fill="#26ecf2"/><ellipse cx="3.97" cy="-1.65" rx="2.1" ry="1.25" transform="rotate(-22.5 3.97 -1.65)" fill="#bff8fb"/><ellipse cx="1.65" cy="-3.97" rx="2.1" ry="1.25" transform="rotate(-67.5 1.65 -3.97)" fill="#bff8fb"/><ellipse cx="-1.65" cy="-3.97" rx="2.1" ry="1.25" transform="rotate(-112.5 -1.65 -3.97)" fill="#bff8fb"/><ellipse cx="-3.97" cy="-1.65" rx="2.1" ry="1.25" transform="rotate(-157.5 -3.97 -1.65)" fill="#bff8fb"/><ellipse cx="-3.97" cy="1.65" rx="2.1" ry="1.25" transform="rotate(-202.5 -3.97 1.65)" fill="#bff8fb"/><ellipse cx="-1.65" cy="3.97" rx="2.1" ry="1.25" transform="rotate(-247.5 -1.65 3.97)" fill="#bff8fb"/><ellipse cx="1.65" cy="3.97" rx="2.1" ry="1.25" transform="rotate(-292.5 1.65 3.97)" fill="#bff8fb"/><ellipse cx="3.97" cy="1.65" rx="2.1" ry="1.25" transform="rotate(-337.5 3.97 1.65)" fill="#bff8fb"/></g>
<g transform="translate(425.7,176.9)"><circle r="8.1" fill="#26ecf2"/><ellipse cx="3.97" cy="-1.65" rx="2.1" ry="1.25" transform="rotate(-22.5 3.97 -1.65)" fill="#bff8fb"/><ellipse cx="1.65" cy="-3.97" rx="2.1" ry="1.25" transform="rotate(-67.5 1.65 -3.97)" fill="#bff8fb"/><ellipse cx="-1.65" cy="-3.97" rx="2.1" ry="1.25" transform="rotate(-112.5 -1.65 -3.97)" fill="#bff8fb"/><ellipse cx="-3.97" cy="-1.65" rx="2.1" ry="1.25" transform="rotate(-157.5 -3.97 -1.65)" fill="#bff8fb"/><ellipse cx="-3.97" cy="1.65" rx="2.1" ry="1.25" transform="rotate(-202.5 -3.97 1.65)" fill="#bff8fb"/><ellipse cx="-1.65" cy="3.97" rx="2.1" ry="1.25" transform="rotate(-247.5 -1.65 3.97)" fill="#bff8fb"/><ellipse cx="1.65" cy="3.97" rx="2.1" ry="1.25" transform="rotate(-292.5 1.65 3.97)" fill="#bff8fb"/><ellipse cx="3.97" cy="1.65" rx="2.1" ry="1.25" transform="rotate(-337.5 3.97 1.65)" fill="#bff8fb"/></g>
<g transform="translate(449.6,222.9)"><circle r="8.1" fill="#26ecf2"/><ellipse cx="3.97" cy="-1.65" rx="2.1" ry="1.25" transform="rotate(-22.5 3.97 -1.65)" fill="#bff8fb"/><ellipse cx="1.65" cy="-3.97" rx="2.1" ry="1.25" transform="rotate(-67.5 1.65 -3.97)" fill="#bff8fb"/><ellipse cx="-1.65" cy="-3.97" rx="2.1" ry="1.25" transform="rotate(-112.5 -1.65 -3.97)" fill="#bff8fb"/><ellipse cx="-3.97" cy="-1.65" rx="2.1" ry="1.25" transform="rotate(-157.5 -3.97 -1.65)" fill="#bff8fb"/><ellipse cx="-3.97" cy="1.65" rx="2.1" ry="1.25" transform="rotate(-202.5 -3.97 1.65)" fill="#bff8fb"/><ellipse cx="-1.65" cy="3.97" rx="2.1" ry="1.25" transform="rotate(-247.5 -1.65 3.97)" fill="#bff8fb"/><ellipse cx="1.65" cy="3.97" rx="2.1" ry="1.25" transform="rotate(-292.5 1.65 3.97)" fill="#bff8fb"/><ellipse cx="3.97" cy="1.65" rx="2.1" ry="1.25" transform="rotate(-337.5 3.97 1.65)" fill="#bff8fb"/></g>
<g transform="translate(472.5,261.5)"><circle r="8.1" fill="#26ecf2"/><ellipse cx="3.97" cy="-1.65" rx="2.1" ry="1.25" transform="rotate(-22.5 3.97 -1.65)" fill="#bff8fb"/><ellipse cx="1.65" cy="-3.97" rx="2.1" ry="1.25" transform="rotate(-67.5 1.65 -3.97)" fill="#bff8fb"/><ellipse cx="-1.65" cy="-3.97" rx="2.1" ry="1.25" transform="rotate(-112.5 -1.65 -3.97)" fill="#bff8fb"/><ellipse cx="-3.97" cy="-1.65" rx="2.1" ry="1.25" transform="rotate(-157.5 -3.97 -1.65)" fill="#bff8fb"/><ellipse cx="-3.97" cy="1.65" rx="2.1" ry="1.25" transform="rotate(-202.5 -3.97 1.65)" fill="#bff8fb"/><ellipse cx="-1.65" cy="3.97" rx="2.1" ry="1.25" transform="rotate(-247.5 -1.65 3.97)" fill="#bff8fb"/><ellipse cx="1.65" cy="3.97" rx="2.1" ry="1.25" transform="rotate(-292.5 1.65 3.97)" fill="#bff8fb"/><ellipse cx="3.97" cy="1.65" rx="2.1" ry="1.25" transform="rotate(-337.5 3.97 1.65)" fill="#bff8fb"/></g>
<g transform="translate(495.8,291.2)"><circle r="8.1" fill="#26ecf2"/><ellipse cx="3.97" cy="-1.65" rx="2.1" ry="1.25" transform="rotate(-22.5 3.97 -1.65)" fill="#bff8fb"/><ellipse cx="1.65" cy="-3.97" rx="2.1" ry="1.25" transform="rotate(-67.5 1.65 -3.97)" fill="#bff8fb"/><ellipse cx="-1.65" cy="-3.97" rx="2.1" ry="1.25" transform="rotate(-112.5 -1.65 -3.97)" fill="#bff8fb"/><ellipse cx="-3.97" cy="-1.65" rx="2.1" ry="1.25" transform="rotate(-157.5 -3.97 -1.65)" fill="#bff8fb"/><ellipse cx="-3.97" cy="1.65" rx="2.1" ry="1.25" transform="rotate(-202.5 -3.97 1.65)" fill="#bff8fb"/><ellipse cx="-1.65" cy="3.97" rx="2.1" ry="1.25" transform="rotate(-247.5 -1.65 3.97)" fill="#bff8fb"/><ellipse cx="1.65" cy="3.97" rx="2.1" ry="1.25" transform="rotate(-292.5 1.65 3.97)" fill="#bff8fb"/><ellipse cx="3.97" cy="1.65" rx="2.1" ry="1.25" transform="rotate(-337.5 3.97 1.65)" fill="#bff8fb"/></g>
<g transform="translate(519.4,320.8)"><circle r="8.1" fill="#26ecf2"/><ellipse cx="3.97" cy="-1.65" rx="2.1" ry="1.25" transform="rotate(-22.5 3.97 -1.65)" fill="#bff8fb"/><ellipse cx="1.65" cy="-3.97" rx="2.1" ry="1.25" transform="rotate(-67.5 1.65 -3.97)" fill="#bff8fb"/><ellipse cx="-1.65" cy="-3.97" rx="2.1" ry="1.25" transform="rotate(-112.5 -1.65 -3.97)" fill="#bff8fb"/><ellipse cx="-3.97" cy="-1.65" rx="2.1" ry="1.25" transform="rotate(-157.5 -3.97 -1.65)" fill="#bff8fb"/><ellipse cx="-3.97" cy="1.65" rx="2.1" ry="1.25" transform="rotate(-202.5 -3.97 1.65)" fill="#bff8fb"/><ellipse cx="-1.65" cy="3.97" rx="2.1" ry="1.25" transform="rotate(-247.5 -1.65 3.97)" fill="#bff8fb"/><ellipse cx="1.65" cy="3.97" rx="2.1" ry="1.25" transform="rotate(-292.5 1.65 3.97)" fill="#bff8fb"/><ellipse cx="3.97" cy="1.65" rx="2.1" ry="1.25" transform="rotate(-337.5 3.97 1.65)" fill="#bff8fb"/></g>
<g transform="translate(542.9,345.4)"><circle r="8.1" fill="#26ecf2"/><ellipse cx="3.97" cy="-1.65" rx="2.1" ry="1.25" transform="rotate(-22.5 3.97 -1.65)" fill="#bff8fb"/><ellipse cx="1.65" cy="-3.97" rx="2.1" ry="1.25" transform="rotate(-67.5 1.65 -3.97)" fill="#bff8fb"/><ellipse cx="-1.65" cy="-3.97" rx="2.1" ry="1.25" transform="rotate(-112.5 -1.65 -3.97)" fill="#bff8fb"/><ellipse cx="-3.97" cy="-1.65" rx="2.1" ry="1.25" transform="rotate(-157.5 -3.97 -1.65)" fill="#bff8fb"/><ellipse cx="-3.97" cy="1.65" rx="2.1" ry="1.25" transform="rotate(-202.5 -3.97 1.65)" fill="#bff8fb"/><ellipse cx="-1.65" cy="3.97" rx="2.1" ry="1.25" transform="rotate(-247.5 -1.65 3.97)" fill="#bff8fb"/><ellipse cx="1.65" cy="3.97" rx="2.1" ry="1.25" transform="rotate(-292.5 1.65 3.97)" fill="#bff8fb"/><ellipse cx="3.97" cy="1.65" rx="2.1" ry="1.25" transform="rotate(-337.5 3.97 1.65)" fill="#bff8fb"/></g>
<g transform="translate(566,357.1)"><circle r="8.1" fill="#26ecf2"/><ellipse cx="3.97" cy="-1.65" rx="2.1" ry="1.25" transform="rotate(-22.5 3.97 -1.65)" fill="#bff8fb"/><ellipse cx="1.65" cy="-3.97" rx="2.1" ry="1.25" transform="rotate(-67.5 1.65 -3.97)" fill="#bff8fb"/><ellipse cx="-1.65" cy="-3.97" rx="2.1" ry="1.25" transform="rotate(-112.5 -1.65 -3.97)" fill="#bff8fb"/><ellipse cx="-3.97" cy="-1.65" rx="2.1" ry="1.25" transform="rotate(-157.5 -3.97 -1.65)" fill="#bff8fb"/><ellipse cx="-3.97" cy="1.65" rx="2.1" ry="1.25" transform="rotate(-202.5 -3.97 1.65)" fill="#bff8fb"/><ellipse cx="-1.65" cy="3.97" rx="2.1" ry="1.25" transform="rotate(-247.5 -1.65 3.97)" fill="#bff8fb"/><ellipse cx="1.65" cy="3.97" rx="2.1" ry="1.25" transform="rotate(-292.5 1.65 3.97)" fill="#bff8fb"/><ellipse cx="3.97" cy="1.65" rx="2.1" ry="1.25" transform="rotate(-337.5 3.97 1.65)" fill="#bff8fb"/></g>
<g transform="translate(589,373.1)"><circle r="8.1" fill="#26ecf2"/><ellipse cx="3.97" cy="-1.65" rx="2.1" ry="1.25" transform="rotate(-22.5 3.97 -1.65)" fill="#bff8fb"/><ellipse cx="1.65" cy="-3.97" rx="2.1" ry="1.25" transform="rotate(-67.5 1.65 -3.97)" fill="#bff8fb"/><ellipse cx="-1.65" cy="-3.97" rx="2.1" ry="1.25" transform="rotate(-112.5 -1.65 -3.97)" fill="#bff8fb"/><ellipse cx="-3.97" cy="-1.65" rx="2.1" ry="1.25" transform="rotate(-157.5 -3.97 -1.65)" fill="#bff8fb"/><ellipse cx="-3.97" cy="1.65" rx="2.1" ry="1.25" transform="rotate(-202.5 -3.97 1.65)" fill="#bff8fb"/><ellipse cx="-1.65" cy="3.97" rx="2.1" ry="1.25" transform="rotate(-247.5 -1.65 3.97)" fill="#bff8fb"/><ellipse cx="1.65" cy="3.97" rx="2.1" ry="1.25" transform="rotate(-292.5 1.65 3.97)" fill="#bff8fb"/><ellipse cx="3.97" cy="1.65" rx="2.1" ry="1.25" transform="rotate(-337.5 3.97 1.65)" fill="#bff8fb"/></g>
<g transform="translate(613.3,386.5)"><circle r="8.1" fill="#26ecf2"/><ellipse cx="3.97" cy="-1.65" rx="2.1" ry="1.25" transform="rotate(-22.5 3.97 -1.65)" fill="#bff8fb"/><ellipse cx="1.65" cy="-3.97" rx="2.1" ry="1.25" transform="rotate(-67.5 1.65 -3.97)" fill="#bff8fb"/><ellipse cx="-1.65" cy="-3.97" rx="2.1" ry="1.25" transform="rotate(-112.5 -1.65 -3.97)" fill="#bff8fb"/><ellipse cx="-3.97" cy="-1.65" rx="2.1" ry="1.25" transform="rotate(-157.5 -3.97 -1.65)" fill="#bff8fb"/><ellipse cx="-3.97" cy="1.65" rx="2.1" ry="1.25" transform="rotate(-202.5 -3.97 1.65)" fill="#bff8fb"/><ellipse cx="-1.65" cy="3.97" rx="2.1" ry="1.25" transform="rotate(-247.5 -1.65 3.97)" fill="#bff8fb"/><ellipse cx="1.65" cy="3.97" rx="2.1" ry="1.25" transform="rotate(-292.5 1.65 3.97)" fill="#bff8fb"/><ellipse cx="3.97" cy="1.65" rx="2.1" ry="1.25" transform="rotate(-337.5 3.97 1.65)" fill="#bff8fb"/></g>
<g transform="translate(636,392.5)"><circle r="8.1" fill="#26ecf2"/><ellipse cx="3.97" cy="-1.65" rx="2.1" ry="1.25" transform="rotate(-22.5 3.97 -1.65)" fill="#bff8fb"/><ellipse cx="1.65" cy="-3.97" rx="2.1" ry="1.25" transform="rotate(-67.5 1.65 -3.97)" fill="#bff8fb"/><ellipse cx="-1.65" cy="-3.97" rx="2.1" ry="1.25" transform="rotate(-112.5 -1.65 -3.97)" fill="#bff8fb"/><ellipse cx="-3.97" cy="-1.65" rx="2.1" ry="1.25" transform="rotate(-157.5 -3.97 -1.65)" fill="#bff8fb"/><ellipse cx="-3.97" cy="1.65" rx="2.1" ry="1.25" transform="rotate(-202.5 -3.97 1.65)" fill="#bff8fb"/><ellipse cx="-1.65" cy="3.97" rx="2.1" ry="1.25" transform="rotate(-247.5 -1.65 3.97)" fill="#bff8fb"/><ellipse cx="1.65" cy="3.97" rx="2.1" ry="1.25" transform="rotate(-292.5 1.65 3.97)" fill="#bff8fb"/><ellipse cx="3.97" cy="1.65" rx="2.1" ry="1.25" transform="rotate(-337.5 3.97 1.65)" fill="#bff8fb"/></g>
<path d="M99.2,433.2 L100.7,431.6 L102.2,430.1 L103.7,428.5 L105.2,427.0 L106.7,425.5 L108.2,424.1 L109.7,422.6 L111.2,421.1 L112.7,419.6 L114.2,418.1 L115.7,416.6 L117.2,415.1 L118.7,413.5 L120.2,411.9 L121.7,410.3 L123.2,408.7 L124.7,407.0 L126.2,405.2 L127.7,403.5 L129.2,401.6 L130.7,399.7 L132.2,397.8 L133.7,395.8 L135.2,393.7 L136.7,391.6 L138.2,389.4 L139.7,387.2 L141.2,384.9 L142.7,382.5 L144.2,380.1 L145.7,377.6 L147.2,375.1 L148.7,372.6 L150.2,369.9 L151.7,367.3 L153.2,364.6 L154.7,361.8 L156.2,359.0 L157.7,356.1 L159.2,353.2 L160.7,350.2 L162.2,347.2 L163.7,344.2 L165.2,341.0 L166.7,337.9 L168.2,334.7 L169.7,331.5 L171.2,328.2 L172.7,324.8 L174.2,321.5 L175.7,318.0 L177.2,314.6 L178.7,311.1 L180.2,307.5 L181.7,304.0 L183.2,300.3 L184.7,296.7 L186.2,293.0 L187.7,289.2 L189.2,285.4 L190.7,281.6 L192.2,277.7 L193.7,273.8 L195.2,269.9 L196.7,265.9 L198.2,261.9 L199.7,257.8 L201.2,253.7 L202.7,249.6 L204.2,245.3 L205.7,241.1 L207.2,236.8 L208.7,232.4 L210.2,228.0 L211.7,223.5 L213.2,218.9 L214.7,214.3 L216.2,209.7 L217.7,205.0 L219.2,200.3 L220.7,195.7 L222.2,191.1 L223.7,186.5 L225.2,182.1 L226.7,177.8 L228.2,173.7 L229.7,169.7 L231.2,165.8 L232.7,162.1 L234.2,158.5 L235.7,154.9 L237.2,151.4 L238.7,147.8 L240.2,144.3 L241.7,140.7 L243.2,137.0 L244.7,133.3 L246.2,129.5 L247.7,125.8 L249.2,122.2 L250.7,118.7 L252.2,115.2 L253.7,111.6 L255.2,107.5 L256.7,102.7 L258.2,97.9 L259.7,93.9 L261.2,90.3 L262.7,87.0 L264.2,83.9 L265.7,81.0 L267.2,78.3 L268.7,75.8 L270.2,73.3 L271.7,71.0 L273.2,68.7 L274.7,66.6 L276.2,64.4 L277.7,62.4 L279.2,60.3 L280.7,58.4 L282.2,56.5 L283.7,54.7 L285.2,53.0 L286.7,51.3 L288.2,49.7 L289.7,48.3 L291.2,46.9 L292.7,45.5 L294.2,44.3 L295.7,43.2 L297.2,42.2 L298.7,41.3 L300.2,40.4 L301.7,39.7 L303.2,39.1 L304.7,38.6 L306.2,38.1 L307.7,37.8 L309.2,37.5 L310.7,37.4 L312.2,37.3 L313.7,37.3 L315.2,37.4 L316.7,37.6 L318.2,37.9 L319.7,38.3 L321.2,38.8 L322.7,39.3 L324.2,40.0 L325.7,40.7 L327.2,41.5 L328.7,42.4 L330.2,43.3 L331.7,44.4 L333.2,45.5 L334.7,46.7 L336.2,48.0 L337.7,49.4 L339.2,50.9 L340.7,52.4 L342.2,54.0 L343.7,55.7 L345.2,57.4 L346.7,59.2 L348.2,61.1 L349.7,63.1 L351.2,65.1 L352.7,67.2 L354.2,69.4 L355.7,71.5 L357.2,73.7 L358.7,75.9 L360.2,78.1 L361.7,80.3 L363.2,82.4 L364.7,84.5 L366.2,86.6 L367.7,88.7 L369.2,90.9 L370.7,93.1 L372.2,95.4 L373.7,97.9 L375.2,100.5 L376.7,103.2 L378.2,105.9 L379.7,108.5 L381.2,111.2 L382.7,113.8 L384.2,116.5 L385.7,119.1 L387.2,121.8 L388.7,124.5 L390.2,127.1 L391.7,129.8 L393.2,132.5 L394.7,135.2 L396.2,137.9 L397.7,140.5 L399.2,143.2 L400.7,145.8 L402.2,148.5 L403.7,151.1 L405.2,153.6 L406.7,156.2 L408.2,158.7 L409.7,161.3 L411.2,163.8 L412.7,166.3 L414.2,168.8 L415.7,171.3 L417.2,173.8 L418.7,176.4 L420.2,178.9 L421.7,181.5 L423.2,184.0 L424.7,186.6 L426.2,189.2 L427.7,191.9 L429.2,194.5 L430.7,197.2 L432.2,199.8 L433.7,202.5 L435.2,205.0 L436.7,207.6 L438.2,210.0 L439.7,212.4 L441.2,214.8 L442.7,217.0 L444.2,219.1 L445.7,221.1 L447.2,223.1 L448.7,225.0 L450.2,226.9 L451.7,228.8 L453.2,230.7 L454.7,232.6 L456.2,234.6 L457.7,236.7 L459.2,238.8 L460.7,240.9 L462.2,243.1 L463.7,245.2 L465.2,247.4 L466.7,249.5 L468.2,251.6 L469.7,253.7 L471.2,255.8 L472.7,257.8 L474.2,259.8 L475.7,261.8 L477.2,263.8 L478.7,265.8 L480.2,267.7 L481.7,269.6 L483.2,271.5 L484.7,273.4 L486.2,275.2 L487.7,277.1 L489.2,278.9 L490.7,280.6 L492.2,282.4 L493.7,284.2 L495.2,285.9 L496.7,287.6 L498.2,289.3 L499.7,291.0 L501.2,292.6 L502.7,294.3 L504.2,295.9 L505.7,297.5 L507.2,299.1 L508.7,300.6 L510.2,302.2 L511.7,303.7 L513.2,305.2 L514.7,306.7 L516.2,308.2 L517.7,309.6 L519.2,311.1 L520.7,312.5 L522.2,313.9 L523.7,315.3 L525.2,316.7 L526.7,318.0 L528.2,319.4 L529.7,320.7 L531.2,322.0 L532.7,323.3 L534.2,324.6 L535.7,325.9 L537.2,327.2 L538.7,328.4 L540.2,329.6 L541.7,330.8 L543.2,332.1 L544.7,333.2 L546.2,334.4 L547.7,335.6 L549.2,336.7 L550.7,337.9 L552.2,339.0 L553.7,340.1 L555.2,341.2 L556.7,342.3 L558.2,343.4 L559.7,344.4 L561.2,345.5 L562.7,346.5 L564.2,347.6 L565.7,348.6 L567.2,349.6 L568.7,350.6 L570.2,351.6 L571.7,352.6 L573.2,353.5 L574.7,354.5 L576.2,355.4 L577.7,356.4 L579.2,357.3 L580.7,358.2 L582.2,359.1 L583.7,360.0 L585.2,360.9 L586.7,361.8 L588.2,362.7 L589.7,363.5 L591.2,364.4 L592.7,365.2 L594.2,366.1 L595.7,366.9 L597.2,367.7 L598.7,368.6 L600.2,369.4 L601.7,370.2 L603.2,371.0 L604.7,371.8 L606.2,372.6 L607.7,373.3 L609.2,374.1 L610.7,374.9 L612.2,375.6 L613.7,376.4 L615.2,377.1 L616.7,377.9 L618.2,378.6 L619.7,379.3 L621.2,380.1 L622.7,380.8 L624.2,381.5 L625.7,382.2" fill="none" stroke="#0808d0" stroke-width="3" stroke-linejoin="round" stroke-linecap="round"/>
<rect x="394.9" y="42.9" width="267.6" height="67.7" fill="#fff" stroke="#3a3a3a" stroke-width="1.2"/>
<line x1="400.8" y1="60.2" x2="433.6" y2="60.2" stroke="#0a0ad8" stroke-width="2.8"/>
<text x="438.6" y="68.9" font-family="'Liberation Sans', sans-serif" font-size="26" fill="#111">Ising Model</text>
<g stroke="#22e8f0" stroke-width="2.2"><line x1="410" y1="92.4" x2="424.4" y2="92.4"/><line x1="417.2" y1="85.2" x2="417.2" y2="99.6"/><line x1="412.1" y1="87.3" x2="422.3" y2="97.5"/><line x1="412.1" y1="97.5" x2="422.3" y2="87.3"/></g>
<text x="438.8" y="100.3" font-family="'Liberation Sans', sans-serif" font-size="26" fill="#111">Transynapse Array</text>
<text x="268.7" y="124.2" font-family="'Liberation Sans', sans-serif" font-size="25" fill="#1a1a1a" textLength="13.6" lengthAdjust="spacingAndGlyphs">T</text>
<text x="280.3" y="129.9" font-family="'Liberation Sans', sans-serif" font-size="17" fill="#1a1a1a">c</text>
<text x="295.1" y="124.2" font-family="'Liberation Sans', sans-serif" font-size="24.5" fill="#1a1a1a">≈</text>
<text x="315" y="124.2" font-family="'Liberation Sans', sans-serif" font-size="24.5" fill="#1a1a1a">2.4</text>
<text x="356.8" y="124.2" font-family="'Liberation Sans', sans-serif" font-size="25" fill="#1a1a1a" textLength="13.6" lengthAdjust="spacingAndGlyphs">T</text>
<text x="370" y="130.1" font-family="'Liberation Sans', sans-serif" font-size="17" fill="#1a1a1a">0</text>
<text x="417.1" y="445.4" font-family="'Liberation Sans', sans-serif" font-size="25" fill="#1a1a1a">Onsager:</text>
<text x="526.6" y="445.4" font-family="'Liberation Sans', sans-serif" font-size="25" fill="#1a1a1a" textLength="13.1" lengthAdjust="spacingAndGlyphs">T</text>
<text x="538.0" y="451.1" font-family="'Liberation Sans', sans-serif" font-size="17" fill="#1a1a1a">c</text>
<text x="552.8" y="445.4" font-family="'Liberation Sans', sans-serif" font-size="24.5" fill="#1a1a1a">=</text>
<text x="572.7" y="445.4" font-family="'Liberation Sans', sans-serif" font-size="24.5" fill="#1a1a1a">2.27</text>
<text x="636.1" y="445.4" font-family="'Liberation Sans', sans-serif" font-size="25" fill="#1a1a1a" textLength="14" lengthAdjust="spacingAndGlyphs">T</text>
<text x="648.9" y="451.1" font-family="'Liberation Sans', sans-serif" font-size="17" fill="#1a1a1a">0</text>
<text x="308" y="301.2" font-family="'Liberation Sans', sans-serif" font-size="19" fill="#111" textLength="104.5" lengthAdjust="spacingAndGlyphs">4 by 4 array</text>
</svg></body></html>
